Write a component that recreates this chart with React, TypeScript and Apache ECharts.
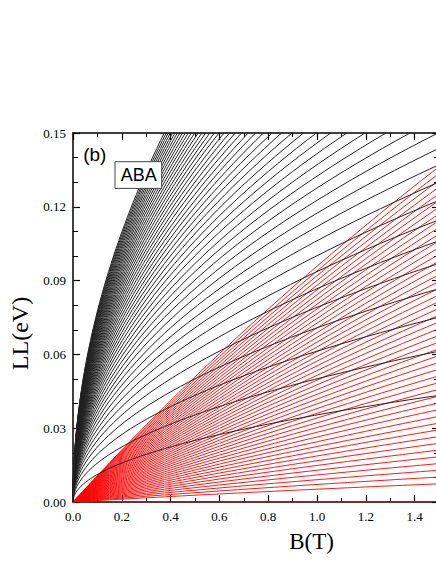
import React, { useEffect, useRef } from "react";
import * as echarts from "echarts";

// ---- data ----
const X_TICKS = [0, 0.2, 0.4, 0.6, 0.8, 1.0, 1.2, 1.4];
const Y_TICKS = [0, 0.03, 0.06, 0.09, 0.12, 0.15];
const B_MAX = 1.5;
const E_MAX = 0.15;

// black (monolayer-like) levels: E = A * sqrt(n B)
const BLACK_A = 0.0354; // eV at n=1, B=1 T
const BLACK_LEVELS = [
  1, 2, 3, 4, 5, 6, 7, 8, 9, 10, 11, 12, 13, 14, 15, 16, 17, 18, 19, 20, 21, 22, 23, 24,
  25, 26, 27, 28, 29, 30, 31, 32, 33, 34, 35, 36, 37, 38, 39, 40, 41, 42, 43, 44, 45, 46, 47, 48,
];

// red (bilayer-like) levels: E = C * m * B / sqrt(1 + K B)
const RED_C = 0.00219; // eV/T per unit index
const RED_K = 0.29; // bending, 1/T
const RED_LEVELS = [
  0, 2.7, 3.7, 4.7, 5.7, 6.7, 7.7, 8.7, 9.7, 10.7, 11.7, 12.7, 13.7, 14.7, 15.7, 16.7, 17.7,
  18.7, 19.7, 20.7, 21.7, 22.7, 23.7, 24.7, 25.7, 26.7, 27.7, 28.7, 29.7, 30.7, 31.7, 32.7,
  33.7, 34.7, 35.7, 36.7, 37.7, 38.7, 39.7, 40.7, 41.7, 42.7, 43.7, 44.7, 45.7, 46.7, 47.7,
  48.7, 49.7,
];

const SERIF = "'Liberation Serif', 'Times New Roman', serif";
const SANS = "'Liberation Sans', Arial, sans-serif";

function blackCurve(n: number): number[][] {
  const bTop = Math.min(B_MAX, (E_MAX / BLACK_A) ** 2 / n);
  const pts: number[][] = [];
  const K = 48;
  for (let k = 0; k <= K; k++) {
    const b = bTop * (k / K) ** 2;
    pts.push([b, BLACK_A * Math.sqrt(n * b)]);
  }
  return pts;
}

function redCurve(m: number): number[][] {
  const pts: number[][] = [];
  const K = 20;
  for (let k = 0; k <= K; k++) {
    const b = (B_MAX * k) / K;
    pts.push([b, (RED_C * m * b) / Math.sqrt(1 + RED_K * b)]);
  }
  return pts;
}

const axisLineStyle = { color: "#000", width: 1.5 };

export default function App() {
  const ref = useRef<HTMLDivElement>(null);
  useEffect(() => {
    const chart = echarts.init(ref.current!, null, { renderer: "svg" });
    const series: any[] = [];
    RED_LEVELS.forEach((m, i) => {
      series.push({
        type: "line",
        name: "red" + i,
        data: redCurve(m),
        showSymbol: false,
        silent: true,
        lineStyle: { color: "#ff0000", width: m === 0 ? 1.2 : 0.9 },
        z: 3,
      });
    });
    BLACK_LEVELS.forEach((n) => {
      series.push({
        type: "line",
        name: "black" + n,
        data: blackCurve(n),
        showSymbol: false,
        silent: true,
        lineStyle: { color: "#222", width: 1 },
        z: 4,
      });
    });

    const xCommon = {
      type: "value",
      min: 0,
      max: B_MAX,
      interval: X_TICKS[1] - X_TICKS[0],
      splitLine: { show: false },
      axisLine: { show: true, onZero: false, lineStyle: axisLineStyle },
      axisTick: { show: true, inside: true, length: 7, lineStyle: { color: "#000", width: 1.2 } },
      minorTick: { show: true, splitNumber: 2, length: 4, lineStyle: { color: "#000", width: 1 } },
    };
    const yCommon = {
      type: "value",
      min: 0,
      max: E_MAX,
      interval: Y_TICKS[1] - Y_TICKS[0],
      splitLine: { show: false },
      axisLine: { show: true, onZero: false, lineStyle: axisLineStyle },
      axisTick: { show: true, inside: true, length: 7, lineStyle: { color: "#000", width: 1.2 } },
      minorTick: { show: true, splitNumber: 3, length: 5, lineStyle: { color: "#000", width: 1 } },
    };

    chart.setOption({
      animation: false,
      backgroundColor: "#fff",
      grid: {
        left: 73,
        top: 133,
        right: -3,
        bottom: 62,
        containLabel: false,
        outerBoundsMode: "none",
      },
      xAxis: [
        {
          ...xCommon,
          position: "bottom",
          axisLabel: {
            show: true,
            showMaxLabel: false,
            margin: 8,
            fontFamily: SERIF,
            fontSize: 13,
            color: "#000",
            formatter: (v: number) => v.toFixed(1),
          },
        },
        { ...xCommon, position: "top", axisLabel: { show: false } },
      ],
      yAxis: [
        {
          ...yCommon,
          position: "left",
          axisLabel: {
            show: true,
            margin: 7,
            fontFamily: SERIF,
            fontSize: 13,
            color: "#000",
            formatter: (v: number) => v.toFixed(2),
          },
        },
        { ...yCommon, position: "right", axisLabel: { show: false } },
      ],
      series,
      graphic: [
        {
          type: "text",
          x: 311.5,
          y: 541.5,
          style: {
            text: "B(T)",
            font: `23px ${SERIF}`,
            fill: "#000",
            textAlign: "center",
            textVerticalAlign: "middle",
          },
          z: 100,
        },
        {
          type: "text",
          x: 20,
          y: 333.5,
          rotation: Math.PI / 2,
          style: {
            text: "LL(eV)",
            font: `24px ${SERIF}`,
            fill: "#000",
            textAlign: "center",
            textVerticalAlign: "middle",
          },
          z: 100,
        },
        {
          type: "text",
          x: 94.8,
          y: 154.5,
          style: {
            text: "(b)",
            font: `19px ${SANS}`,
            fill: "#000",
            textAlign: "center",
            textVerticalAlign: "middle",
          },
          z: 100,
        },
        {
          type: "rect",
          shape: { x: 115, y: 161.7, width: 46.7, height: 26.7 },
          style: { fill: "#fff", stroke: "#444", lineWidth: 1 },
          z: 100,
        },
        {
          type: "text",
          x: 138.8,
          y: 175.2,
          style: {
            text: "ABA",
            font: `18px ${SANS}`,
            fill: "#000",
            textAlign: "center",
            textVerticalAlign: "middle",
          },
          z: 101,
        },
      ],
    });
    return () => chart.dispose();
  }, []);
  return (
    <div
      ref={ref}
      style={{ position: "fixed", left: 0, top: 0, width: 436, height: 564, background: "#fff" }}
    />
  );
}
